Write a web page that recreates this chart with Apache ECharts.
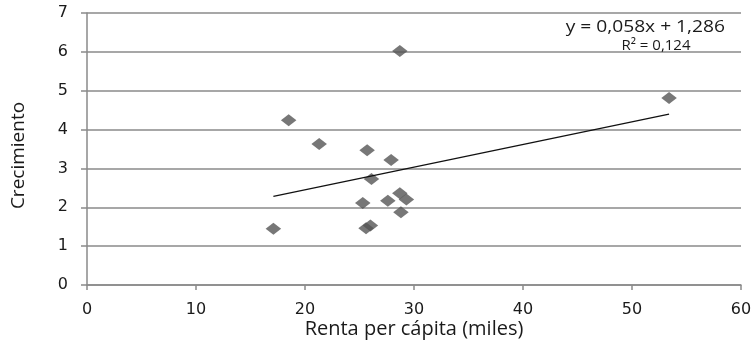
<!DOCTYPE html>
<html>
<head>
<meta charset="utf-8">
<script src="https://cdn.jsdelivr.net/npm/echarts@6/dist/echarts.min.js"></script>
<style>html,body{margin:0;padding:0;background:#fff}#c{width:756px;height:344px}</style>
</head>
<body>
<div id="c"></div>
<script>
var renta = [17.1, 18.5, 21.3, 25.7, 26.1, 25.3, 25.6, 26.0, 27.9, 27.6, 28.7, 29.3, 28.8, 28.7, 53.4];
var crecimiento = [1.45, 4.24, 3.63, 3.47, 2.73, 2.11, 1.46, 1.53, 3.22, 2.17, 2.36, 2.20, 1.87, 6.02, 4.81];
var trendX = [17.1, 53.4];
var trendY = [2.28, 4.40];
var xTicks = [0, 10, 20, 30, 40, 50, 60];
var yTicks = [0, 1, 2, 3, 4, 5, 6, 7];
var eqText = 'y = 0,058x + 1,286';
var r2Text = 'R² = 0,124';
var xName = 'Renta per cápita (miles)';
var yName = 'Crecimiento';

var pts = renta.map(function (x, i) { return [x, crecimiento[i]]; });
var trend = trendX.map(function (x, i) { return [x, trendY[i]]; });

var chart = echarts.init(document.getElementById('c'), null, {renderer: 'canvas'});
chart.setOption({
  animation: false,
  grid: {left: 87, right: 15, top: 13, bottom: 59, containLabel: false, outerBoundsMode: 'none'},
  xAxis: {
    type: 'value', min: xTicks[0], max: xTicks[xTicks.length - 1], interval: 10,
    name: xName, nameLocation: 'middle', nameGap: 34, nameMoveOverlap: false,
    nameTextStyle: {fontFamily: 'Open Sans', fontSize: 20, color: '#1a1a1a'},
    axisLine: {show: true, lineStyle: {color: '#8a8a8a', width: 1.5}},
    axisTick: {show: true, length: 5, lineStyle: {color: '#8a8a8a', width: 1.5}},
    axisLabel: {fontFamily: 'DejaVu Sans', fontSize: 16, color: '#1a1a1a', margin: 17},
    splitLine: {show: false}
  },
  yAxis: {
    type: 'value', min: yTicks[0], max: yTicks[yTicks.length - 1], interval: 1,
    name: yName, nameLocation: 'middle', nameGap: 59, nameRotate: 90, nameMoveOverlap: false,
    nameTextStyle: {fontFamily: 'Open Sans', fontSize: 19, color: '#1a1a1a', padding: [0, 13, 0, 0]},
    axisLine: {show: true, lineStyle: {color: '#8a8a8a', width: 1.5}},
    axisTick: {show: true, length: 6, lineStyle: {color: '#8a8a8a', width: 1.5}},
    axisLabel: {fontFamily: 'DejaVu Sans', fontSize: 16, color: '#1a1a1a', margin: 19},
    splitLine: {show: true, lineStyle: {color: '#8a8a8a', width: 1.5}}
  },
  series: [
    {
      type: 'scatter', data: pts, symbol: 'diamond', symbolSize: [15.5, 12],
      itemStyle: {color: '#555555'}, z: 3
    },
    {
      type: 'line', data: trend, symbol: 'none',
      lineStyle: {color: '#111', width: 1.3}, z: 4
    }
  ],
  graphic: [
    {type: 'text', x: 725, y: 27.5, scaleX: 1.2, z: 10,
     style: {text: eqText, fontFamily: 'Open Sans', fontSize: 16, fill: '#1a1a1a', textAlign: 'right', textVerticalAlign: 'middle'}},
    {type: 'text', x: 656, y: 45.5, z: 10,
     style: {text: r2Text, fontFamily: 'Open Sans', fontSize: 15, fill: '#1a1a1a', textAlign: 'center', textVerticalAlign: 'middle'}}
  ]
});
</script>
</body>
</html>
